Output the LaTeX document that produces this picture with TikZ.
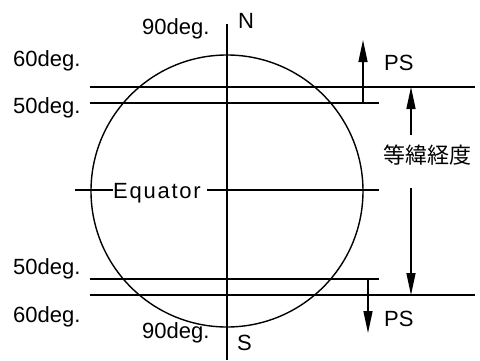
\documentclass[tikz,border=0pt]{standalone}
\usepackage{fontspec}
\setmainfont{Liberation Sans}
\newfontfamily\cjk{Noto Sans CJK JP}
\usetikzlibrary{arrows.meta}
\begin{document}
\begin{tikzpicture}[x=1pt,y=-1pt,
  ln/.style={line width=1.4pt,line cap=butt},
  arr/.style={ln,-{Triangle[length=22pt,width=9pt]}},
  lbl/.style={anchor=base west,inner sep=0pt,font=\fontsize{22}{22}\selectfont}]
\useasboundingbox (0,0) rectangle (480,360);
% circle and axis
\coordinate (cc) at (227,191);
\draw[ln] (cc) circle[radius=136];
\coordinate (axT) at (227,24);
\coordinate (axB) at (227,360);
\draw[ln] (axT) -- (axB);
% latitude lines
\coordinate (u60a) at (90,87);  \coordinate (u60b) at (475,87);
\coordinate (u50a) at (90,103); \coordinate (u50b) at (379,103);
\coordinate (l50a) at (90,279); \coordinate (l50b) at (379,279);
\coordinate (l60a) at (90,295); \coordinate (l60b) at (475,295);
\draw[ln] (u60a) -- (u60b);
\draw[ln] (u50a) -- (u50b);
\draw[ln] (l50a) -- (l50b);
\draw[ln] (l60a) -- (l60b);
% equator
\node[lbl,anchor=base,font=\fontsize{22}{22}\selectfont\addfontfeature{LetterSpace=8}] (eq) at (157,198) {Equator};
\coordinate (eqL) at (75,190);
\coordinate (eqR) at (379,190);
\draw[ln] (eqL) -- (eq.west |- eqL);
\draw[ln] ([xshift=6pt]eq.east |- eqR) -- (eqR);
% labels
\node[lbl] (t60u) at (13,66) {60deg.};
\node[lbl] (t50u) at (13,113) {50deg.};
\node[lbl] (t90u) at (142,34) {90deg.};
\node[lbl] (tN) at (238,28) {N};
\node[lbl] (t50l) at (13,274) {50deg.};
\node[lbl] (t60l) at (13,322) {60deg.};
\node[lbl] (t90l) at (142,338) {90deg.};
\node[lbl] (tS) at (237,350) {S};
\node[lbl] (psU) at (384,70) {PS};
\node[lbl] (psL) at (384,326) {PS};
\node[lbl,font=\fontsize{22}{22}\cjk] (eqlat) at (383,163) {等緯経度};
% arrows
\coordinate (a1s) at (363,103); \coordinate (a1e) at (363,40);
\draw[arr] (a1s) -- (a1e);
\coordinate (a2s) at (411,135); \coordinate (a2e) at (411,87);
\draw[arr] (a2s) -- (a2e);
\coordinate (a3s) at (411,188); \coordinate (a3e) at (411,295);
\draw[arr] (a3s) -- (a3e);
\coordinate (a4s) at (368,279); \coordinate (a4e) at (368,333);
\draw[arr] (a4s) -- (a4e);
\end{tikzpicture}
\end{document}
